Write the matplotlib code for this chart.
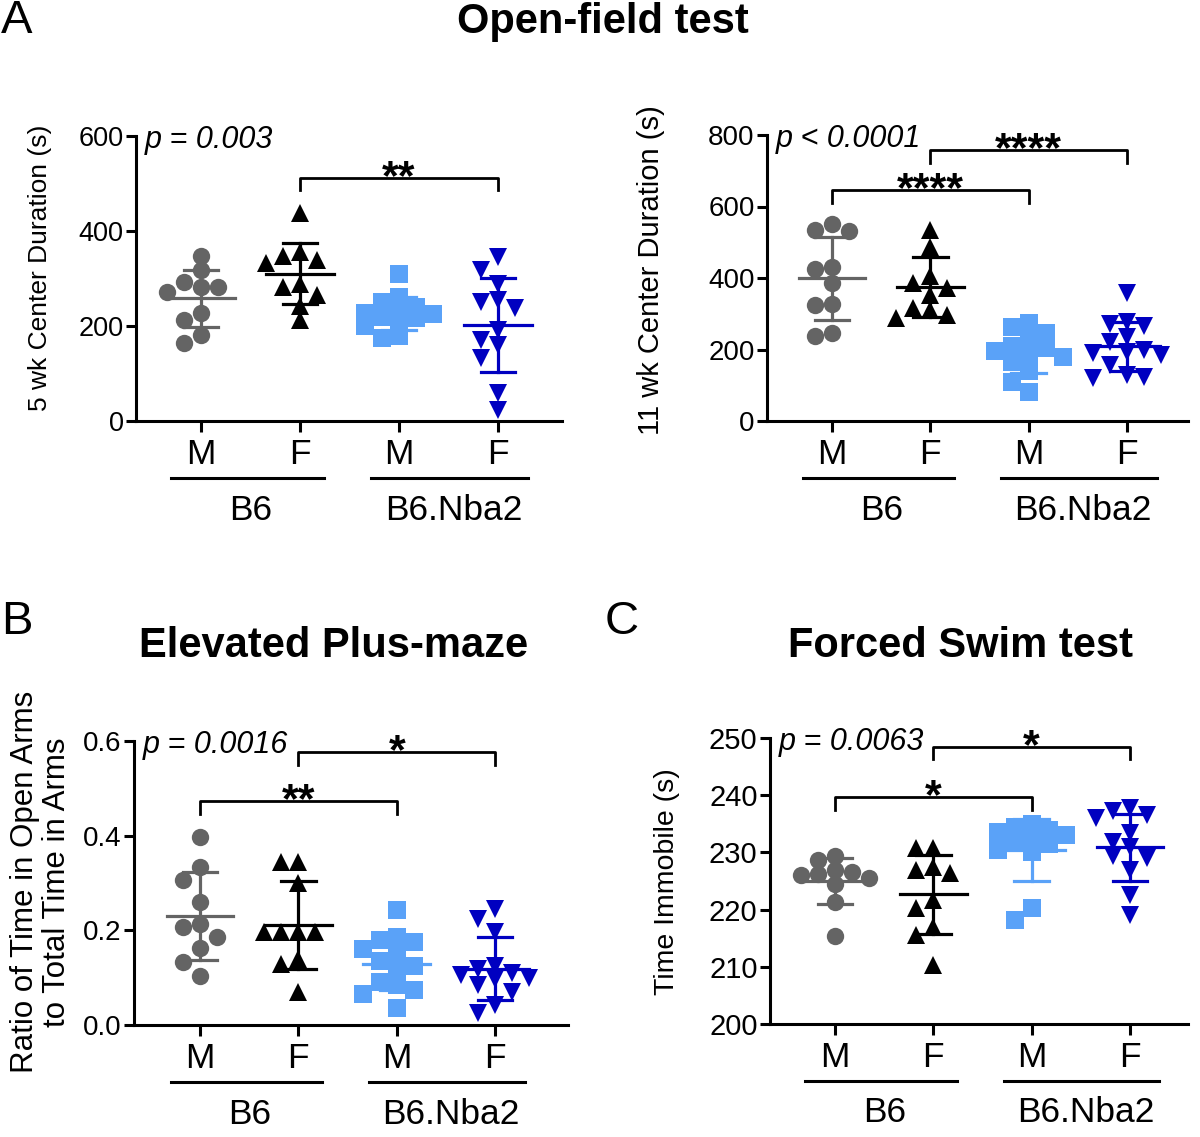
"""
Behaviour tests B6 vs B6.Nba2 (open field, elevated plus-maze, forced swim).
Prism-style scatter dot plots with mean +/- SD.
"""
import matplotlib
matplotlib.use('Agg')
import matplotlib.pyplot as plt
import numpy as np

plt.rcParams['font.family'] = ['Liberation Sans', 'DejaVu Sans']
plt.rcParams['axes.unicode_minus'] = False

GRAY = '#646464'
BLACK = '#000000'
LIGHT_BLUE = '#5AA2F8'
DARK_BLUE = '#0000C0'

W, H = 1200, 1137  # figure size in px (dpi 100)

# ── Data ──
sexes = ['M', 'F', 'M', 'F']
strains = ['B6', 'B6.Nba2']
group_colors = [GRAY, BLACK, LIGHT_BLUE, DARK_BLUE]
group_markers = ['o', '^', 's', 'v']

# Open field, 5 wk center duration (s)
of5_b6_m = [348, 318, 293, 283, 283, 272, 227, 213, 181, 164]
of5_b6_f = [437, 355, 348, 340, 332, 288, 283, 265, 243, 213]
of5_nba_m = [309, 262, 251, 240, 232, 228, 225, 220, 216, 210, 200, 178, 174]
of5_nba_f = [346, 318, 288, 255, 251, 237, 192, 171, 160, 132, 58, 23]

# Open field, 11 wk center duration (s)
of11_b6_m = [551, 535, 532, 432, 424, 387, 326, 324, 247, 237]
of11_b6_f = [535, 488, 406, 385, 371, 352, 315, 310, 296, 287]
of11_nba_m = [273, 262, 245, 230, 210, 205, 195, 188, 180, 165, 140, 110, 80]
of11_nba_f = [357, 278, 271, 265, 235, 220, 198, 193, 189, 185, 156, 130, 123, 119]

# Elevated plus-maze, ratio open arms / total
epm_b6_m = [0.397, 0.334, 0.307, 0.259, 0.213, 0.206, 0.186, 0.162, 0.134, 0.103]
epm_b6_f = [0.345, 0.345, 0.299, 0.197, 0.197, 0.197, 0.197, 0.139, 0.128, 0.070]
epm_nba_m = [0.244, 0.185, 0.180, 0.175, 0.160, 0.150, 0.135, 0.125, 0.115,
             0.090, 0.085, 0.075, 0.065, 0.035]
epm_nba_f = [0.246, 0.225, 0.197, 0.125, 0.118, 0.110, 0.105, 0.100, 0.098,
             0.085, 0.070, 0.042, 0.025]

# Forced swim, time immobile (s)
fst_b6_m = [229.4, 228.6, 227.0, 226.5, 226.2, 226.0, 225.5, 224.5, 221.4, 215.4]
fst_b6_f = [230.7, 230.7, 227.5, 227.0, 226.4, 221.7, 220.2, 217.0, 215.6, 210.3]
fst_nba_m = [235.0, 234.5, 234.0, 233.5, 233.0, 232.5, 232.0, 231.5, 230.5,
             230.0, 220.2, 218.2]
fst_nba_f = [237.7, 237.2, 236.6, 236.0, 233.4, 231.9, 231.0, 229.3, 229.0,
             227.0, 222.6, 219.1]

fig = plt.figure(figsize=(W / 100, H / 100), dpi=100)
fig.patch.set_facecolor('white')


def px_axes(x0, y0, x1, y1):
    return fig.add_axes([x0 / W, 1 - y1 / H, (x1 - x0) / W, (y1 - y0) / H])


def fig_text(x, y, s, **kw):
    fig.text(x / W, 1 - y / H, s, ha='center', va='center', **kw)


def swarm_cols(ax, values, diam_px, max_col=2):
    """Greedy beeswarm: column index for each point, little overlap in a column."""
    ys = ax.transData.transform(np.column_stack([np.zeros(len(values)), values]))[:, 1]
    order = [0]
    for k in range(1, max_col + 1):
        order += [-k, k]
    thr = diam_px * 0.8
    placed, cols = [], []
    for y in ys:
        best, best_gap = None, -1
        for c in order:
            gap = min([abs(y - py) for pc, py in placed if pc == c], default=1e9)
            if gap >= thr:
                best = c
                break
            if gap > best_gap:
                best, best_gap = c, gap
        placed.append((best, y))
        cols.append(best)
    return np.array(cols, dtype=float)


def dot_panel(ax, data, ylim, yticks, yfmt, xlim, tick_fs):
    ax.set_xlim(*xlim)
    ax.set_ylim(*ylim)
    px_per_x = ax.transData.transform((1, 0))[0] - ax.transData.transform((0, 0))[0]
    diam = 17.0
    for i, vals in enumerate(data):
        vals = np.asarray(vals, dtype=float)
        cols = swarm_cols(ax, vals, diam)
        xs = i + cols * diam / px_per_x
        ax.plot(xs, vals, linestyle='none', marker=group_markers[i], ms=12.5,
                color=group_colors[i], markeredgewidth=0, zorder=2, clip_on=False)
        m, sd = vals.mean(), vals.std(ddof=1)
        lw = 2.3
        ax.plot([i - 0.34, i + 0.34], [m, m], color=group_colors[i], lw=lw, zorder=3)
        ax.plot([i, i], [m - sd, m + sd], color=group_colors[i], lw=lw, zorder=3)
        for yy in (m - sd, m + sd):
            ax.plot([i - 0.175, i + 0.175], [yy, yy], color=group_colors[i], lw=lw, zorder=3)

    for side in ('top', 'right'):
        ax.spines[side].set_visible(False)
    for side in ('left', 'bottom'):
        ax.spines[side].set_linewidth(2.2)
    ax.set_yticks(yticks)
    ax.set_yticklabels([yfmt.format(t) for t in yticks], fontsize=tick_fs)
    ax.tick_params(axis='y', length=7, width=2.2, pad=2)
    ax.set_xticks(range(4))
    ax.set_xticklabels(sexes, fontsize=25.5)
    ax.tick_params(axis='x', length=8, width=2.2, pad=4)

    # strain underline + label
    trans = ax.get_xaxis_transform()
    y_line = -57 / ax.bbox.height
    y_lab = -89 / ax.bbox.height
    for (a, b), cx, name in zip([(-0.3, 1.24), (1.72, 3.3)], [0.5, 2.55], strains):
        ax.plot([a, b], [y_line, y_line], color='black', lw=2.2, transform=trans, clip_on=False)
        ax.text(cx, y_lab, name, transform=trans, ha='center', va='center', fontsize=25.5)


def bracket(ax, x1, x2, y_top, y_bot, label):
    ax.plot([x1, x1, x2, x2], [y_bot, y_top, y_top, y_bot], color='black', lw=2.0,
            clip_on=False, zorder=4)
    ax.annotate(label, ((x1 + x2) / 2, y_top), xytext=(0, -8), textcoords='offset points',
                ha='center', va='baseline', fontsize=31, fontweight='bold',
                annotation_clip=False)


def p_text(ax, s):
    ax.text(0.02, 1.0 - 4 / ax.bbox.height, s, transform=ax.transAxes, ha='left',
            va='center', fontsize=22, style='italic')


# ── A: Open-field test ──
ax1 = px_axes(136, 136, 562, 421)
dot_panel(ax1, [of5_b6_m, of5_b6_f, of5_nba_m, of5_nba_f], (0, 600),
          [0, 200, 400, 600], '{:d}', (-0.657, 3.646), 19.5)
bracket(ax1, 1, 3, 511, 486, '**')
p_text(ax1, 'p = 0.003')
fig_text(40, 268, '5 wk Center Duration (s)', rotation=90, fontsize=19)

ax2 = px_axes(767, 135, 1188, 421)
dot_panel(ax2, [of11_b6_m, of11_b6_f, of11_nba_m, of11_nba_f], (0, 800),
          [0, 200, 400, 600, 800], '{:d}', (-0.661, 3.62), 20)
bracket(ax2, 0, 2, 647, 611, '****')
bracket(ax2, 1, 3, 757, 721, '****')
p_text(ax2, 'p < 0.0001')
fig_text(651, 270, '11 wk Center Duration (s)', rotation=90, fontsize=21)

# ── B: Elevated plus-maze ──
ax3 = px_axes(134, 741, 568, 1025)
dot_panel(ax3, [epm_b6_m, epm_b6_f, epm_nba_m, epm_nba_f], (0, 0.6),
          [0.0, 0.2, 0.4, 0.6], '{:.1f}', (-0.671, 3.74), 20)
bracket(ax3, 0, 2, 0.473, 0.445, '**')
bracket(ax3, 1, 3, 0.577, 0.550, '*')
p_text(ax3, 'p = 0.0016')
fig_text(41, 882, 'Ratio of Time in Open Arms\nto Total Time in Arms', rotation=90,
         fontsize=22.5, linespacing=1.1)

# ── C: Forced swim test ──
ax4 = px_axes(770, 738, 1188, 1024)
dot_panel(ax4, [fst_b6_m, fst_b6_f, fst_nba_m, fst_nba_f], (200, 250),
          [200, 210, 220, 230, 240, 250], '{:d}', (-0.661, 3.59), 21)
bracket(ax4, 0, 2, 239.7, 237.5, '*')
bracket(ax4, 1, 3, 248.4, 246.3, '*')
p_text(ax4, 'p = 0.0063')
fig_text(667, 882, 'Time Immobile (s)', rotation=90, fontsize=20.5)

# titles and panel letters
fig_text(603, 22, 'Open-field test', fontsize=30, fontweight='bold')
fig_text(334, 646, 'Elevated Plus-maze', fontsize=30, fontweight='bold')
fig_text(960, 646, 'Forced Swim test', fontsize=30, fontweight='bold')
fig_text(17, 21, 'A', fontsize=34)
fig_text(17, 622, 'B', fontsize=34)
fig_text(622, 622, 'C', fontsize=34)

fig.savefig('out.png', dpi=100, facecolor='white')
plt.close(fig)
